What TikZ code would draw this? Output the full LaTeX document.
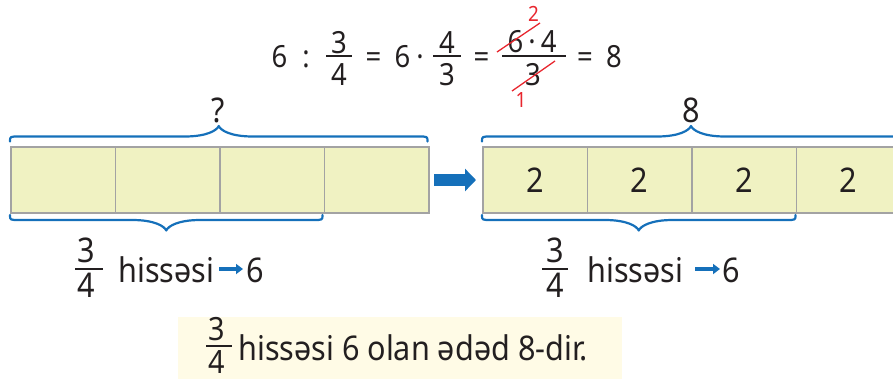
\documentclass[tikz,border=0pt]{standalone}
\usepackage{fontspec}
\setmainfont{Noto Sans}[FakeStretch=0.9]
\usetikzlibrary{arrows.meta}
\definecolor{txt}{HTML}{231F20}
\definecolor{azblue}{HTML}{1570BA}
\definecolor{cellfill}{HTML}{F0F2C2}
\definecolor{cellline}{HTML}{A3A3A3}
\definecolor{notefill}{HTML}{FFFBE6}
\definecolor{redmark}{HTML}{E8262E}
\newcommand{\azbrace}[4]{%
  \pgfmathsetmacro\bxm{(#1+#2)/2}%
  \pgfmathsetmacro\bys{#3+#4*5}%
  \pgfmathsetmacro\byp{#3+#4*15.5}%
  \pgfmathsetmacro\byc{#3+#4*11}%
  \draw[bracestyle] (#1,#3) .. controls (#1,\bys) .. (#1+9,\bys) -- (\bxm-34,\bys)
    .. controls (\bxm-12,\bys) and (\bxm-2,\byc) .. (\bxm,\byp)
    .. controls (\bxm+2,\byc) and (\bxm+12,\bys) .. (\bxm+34,\bys)
    -- (#2-9,\bys) .. controls (#2,\bys) .. (#2,#3);}
\begin{document}
\begin{tikzpicture}[x=1pt,y=-1pt,
  ftxt/.style={inner sep=0pt,anchor=base,text=txt,font=\fontsize{30.5}{36}\selectfont},
  btxt/.style={inner sep=0pt,anchor=base,text=txt,font=\fontsize{34}{40}\selectfont},
  ntxt/.style={inner sep=0pt,anchor=base,text=txt,font=\fontsize{32}{38}\selectfont},
  ltxt/.style={inner sep=0pt,anchor=base west,text=txt,font=\fontsize{34}{40}\selectfont},
  rtxt/.style={inner sep=0pt,anchor=base,text=redmark,font=\fontsize{21}{24}\selectfont},
  fbar/.style={draw=txt,line width=1.4pt},
  cell/.style={draw=cellline,fill=cellfill,line width=1.5pt,minimum width=104.5pt,minimum height=66pt,inner sep=0pt,anchor=north west},
  bracestyle/.style={draw=azblue,line width=2.2pt,line cap=round,line join=round},
  bigarrow/.style={draw=azblue,line width=12pt,-{Triangle[length=11pt,width=22pt]}},
  smallarrow/.style={draw=azblue,line width=4.5pt,-{Triangle[length=7pt,width=10pt]}}
]
\useasboundingbox (0,0) rectangle (893,378);
% formula
\node[ftxt] (f6) at (279.5,67) {6};
\node[ftxt] (fcolon) at (306,67) {:};
\node[ftxt] (fa3) at (339,53) {3};
\node[ftxt] (fa4) at (339,85) {4};
\draw[fbar] (326,56) -- (352,56);
\node[ftxt] (feq1) at (373.5,67) {=};
\node[ftxt] (f6b) at (402.5,67) {6};
\node[ftxt] (fdot) at (420,67) {·};
\node[ftxt] (fb4) at (447,53) {4};
\node[ftxt] (fb3) at (447,85) {3};
\draw[fbar] (433,56) -- (461,56);
\node[ftxt] (feq2) at (481.5,67) {=};
\node[ftxt] (fcnum) at (532,52) {6\,·\,4};
\node[ftxt] (fc3) at (533,85) {3};
\draw[fbar] (502,56) -- (566,56);
\node[ftxt] (feq3) at (585,67) {=};
\node[ftxt] (f8) at (614,67) {8};
\draw[redmark,line width=1.3pt] (497,52) -- (540,23);
\draw[redmark,line width=1.3pt] (512,91) -- (555,61);
\node[rtxt] (r2) at (533.5,21) {2};
\node[rtxt] (r1) at (521,107) {1};
% left strip
\node[cell] (L1) at (10,146) {};
\node[cell] (L2) at (114.5,146) {};
\node[cell] (L3) at (219,146) {};
\node[cell] (L4) at (323.5,146) {};
% right strip
\node[cell] (R1) at (482,146) {};
\node[cell] (R2) at (586.5,146) {};
\node[cell] (R3) at (691,146) {};
\node[cell] (R4) at (795.5,146) {};
\foreach \c in {R1,R2,R3,R4}{\node[btxt] at ([yshift=-12.5pt]\c.center) {2};}
% braces
\azbrace{10}{427.5}{141.5}{-1}
\azbrace{10}{322.5}{215}{1}
\azbrace{482}{900}{141.5}{-1}
\azbrace{482}{795.5}{215}{1}
\node[btxt] (q) at (218.5,122) {?};
\node[btxt] (eight) at (691,122) {8};
% big arrow
\coordinate (aS) at (434,180);
\coordinate (aE) at (476,180);
\draw[bigarrow] (aS) -- (aE);
% left label
\node[btxt] (la3) at (86.5,262) {3};
\node[btxt] (la4) at (86.5,297) {4};
\draw[fbar] (75,269) -- (103,269);
\node[ltxt] (lh) at (118,282) {hissəsi};
\coordinate (laS) at (219,269);
\coordinate (laE) at (243,269);
\draw[smallarrow] (laS) -- (laE);
\node[ltxt] (l6) at (246,282) {6};
% right label
\node[btxt] (ra3) at (555,262) {3};
\node[btxt] (ra4) at (555,297) {4};
\draw[fbar] (542,269) -- (568,269);
\node[ltxt] (rh) at (587,282) {hissəsi};
\coordinate (raS) at (695,269);
\coordinate (raE) at (720,269);
\draw[smallarrow] (raS) -- (raE);
\node[ltxt] (r6) at (722,282) {6};
% note
\fill[notefill] (178,317) rectangle (622,380);
\node[ntxt] (n3) at (217,340) {3};
\node[ntxt] (n4) at (217,373) {4};
\draw[fbar] (206,346) -- (232,346);
\node[ltxt] (nt) at (238,360) {hissəsi 6 olan ədəd 8-dir.};
\end{tikzpicture}
\end{document}
